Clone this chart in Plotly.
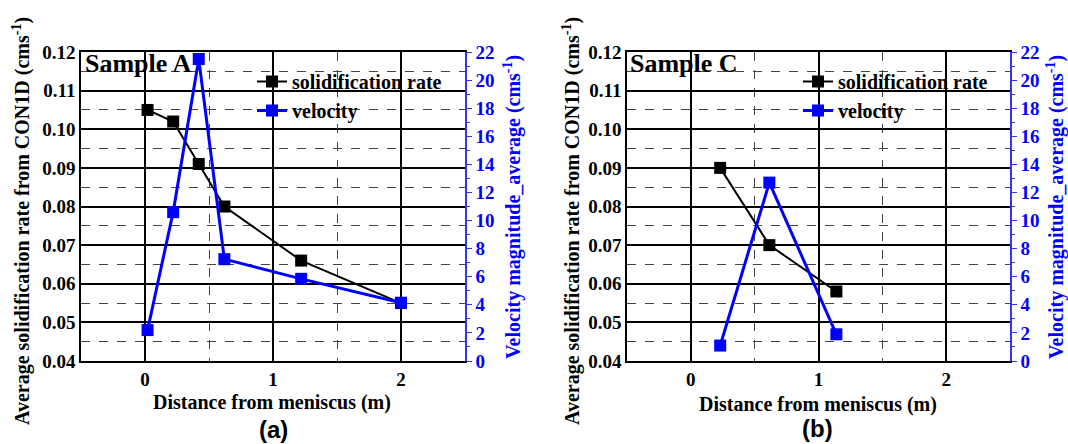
import plotly.graph_objects as go

# ---- data ----
x_a = [0.02, 0.22, 0.42, 0.62, 1.22, 2.0]
solid_a = [0.105, 0.102, 0.091, 0.080, 0.066, 0.055]
vel_a = [2.2, 10.6, 21.5, 7.25, 5.85, 4.15]

x_c = [0.23, 0.615, 1.14]
solid_c = [0.090, 0.070, 0.058]
vel_c = [1.1, 12.7, 1.9]

W, H = 1068, 444
FONT = "Liberation Serif"
BLUE = "#0000ff"

def px(x):
    return x / W

def py(y):
    return (H - y) / H

fig = go.Figure()

fig.add_trace(go.Scatter(x=x_a, y=solid_a, xaxis="x", yaxis="y", name="solidification rate",
                         mode="lines+markers", line=dict(color="black", width=2),
                         marker=dict(symbol="square", size=12, color="black"), legend="legend"))
fig.add_trace(go.Scatter(x=x_a, y=vel_a, xaxis="x", yaxis="y2", name="velocity",
                         mode="lines+markers", line=dict(color=BLUE, width=3),
                         marker=dict(symbol="square", size=12, color=BLUE), legend="legend"))
fig.add_trace(go.Scatter(x=x_c, y=solid_c, xaxis="x2", yaxis="y3", name="solidification rate",
                         mode="lines+markers", line=dict(color="black", width=2),
                         marker=dict(symbol="square", size=12, color="black"), legend="legend2"))
fig.add_trace(go.Scatter(x=x_c, y=vel_c, xaxis="x2", yaxis="y4", name="velocity",
                         mode="lines+markers", line=dict(color=BLUE, width=3),
                         marker=dict(symbol="square", size=12, color=BLUE), legend="legend2"))

dom_y = [py(361), py(52)]
dom_a = [px(81), px(465)]
dom_c = [px(627), px(1010)]

tickfont = dict(family=FONT, size=19, color="black", weight="bold")
bluefont = dict(family=FONT, size=19, color=BLUE, weight="bold")

def xax(domain, anchor):
    return dict(domain=domain, anchor=anchor, range=[-0.5, 2.5], dtick=1, tick0=0,
                showgrid=True, gridcolor="black", gridwidth=1.6,
                minor=dict(dtick=0.5, tick0=0, showgrid=True, gridcolor="#444444",
                           griddash="dash", gridwidth=1),
                showline=True, linecolor="black", linewidth=1.5, mirror=True,
                ticks="", tickfont=tickfont, zeroline=False, fixedrange=True, automargin=False)

def yax(domain, anchor):
    return dict(domain=domain, anchor=anchor, range=[0.04, 0.12], dtick=0.01, tick0=0.04,
                tickformat=".2f", showgrid=True, gridcolor="black", gridwidth=1.6,
                minor=dict(dtick=0.005, tick0=0.04, showgrid=True, gridcolor="#444444",
                           griddash="dash", gridwidth=1),
                showline=True, linecolor="black", linewidth=1.5, mirror=False,
                ticks="", tickfont=tickfont, zeroline=False, fixedrange=True, automargin=False)

def y2ax(overlay, anchor):
    return dict(overlaying=overlay, anchor=anchor, side="right", range=[0, 22], dtick=2, tick0=0,
                showgrid=False, zeroline=False, showline=True, linecolor="#3333ff", linewidth=1.5,
                ticks="outside", ticklen=5, tickcolor="#3333ff", tickwidth=1.2,
                minor=dict(dtick=1, ticks="outside", ticklen=3, tickcolor="#3333ff", showgrid=False),
                tickfont=bluefont, fixedrange=True, automargin=False)

legfont = dict(family=FONT, size=20, color="black", weight="bold")
fig.update_layout(
    width=W, height=H, margin=dict(l=0, r=0, t=0, b=0, autoexpand=False),
    paper_bgcolor="white", plot_bgcolor="white",
    xaxis=xax(dom_a, "y"), yaxis=yax(dom_y, "x"), yaxis2=y2ax("y", "x"),
    xaxis2=xax(dom_c, "y3"), yaxis3=yax(dom_y, "x2"), yaxis4=y2ax("y3", "x2"),
    legend=dict(x=px(252), y=py(62), xanchor="left", yanchor="top", bgcolor="rgba(0,0,0,0)",
                font=legfont, tracegroupgap=0),
    legend2=dict(x=px(798), y=py(62), xanchor="left", yanchor="top", bgcolor="rgba(0,0,0,0)",
                 font=legfont, tracegroupgap=0),
    showlegend=True,
)

ann_font = dict(family=FONT, size=20, color="black", weight="bold")
ann_blue = dict(family=FONT, size=20, color=BLUE, weight="bold")
left_title = "Average solidification rate from CON1D (cms<sup>-1</sup>)"
right_title = "Velocity magnitude_average (cms<sup>-1</sup>)"
xtitle = "Distance from meniscus (m)"
big = dict(family=FONT, size=26, color="black", weight="bold")
lab = dict(family="Liberation Sans", size=24, color="black", weight="bold")

annotations = [
    dict(x=px(21), y=py(221), text=left_title, textangle=-90, font=ann_font),
    dict(x=px(512), y=py(207), text=right_title, textangle=-90, font=ann_blue),
    dict(x=px(571), y=py(221), text=left_title, textangle=-90, font=ann_font),
    dict(x=px(1055), y=py(207), text=right_title, textangle=-90, font=ann_blue),
    dict(x=px(272), y=py(402), text=xtitle, font=ann_font),
    dict(x=px(818), y=py(404), text=xtitle, font=ann_font),
    dict(x=px(273), y=py(429), text="(a)", font=lab),
    dict(x=px(817), y=py(428), text="(b)", font=lab),
    dict(x=px(83), y=py(64), text="Sample A", xanchor="left", font=big),
    dict(x=px(628), y=py(64), text="Sample C", xanchor="left", font=big),
]
for a in annotations:
    a.setdefault("xref", "paper")
    a.setdefault("yref", "paper")
    a.setdefault("showarrow", False)
    a.setdefault("xanchor", "center")
    a.setdefault("yanchor", "middle")
fig.update_layout(annotations=annotations)

fig.write_html("out.html", post_script="document.body.style.margin='0';",
               config={"displayModeBar": False})
